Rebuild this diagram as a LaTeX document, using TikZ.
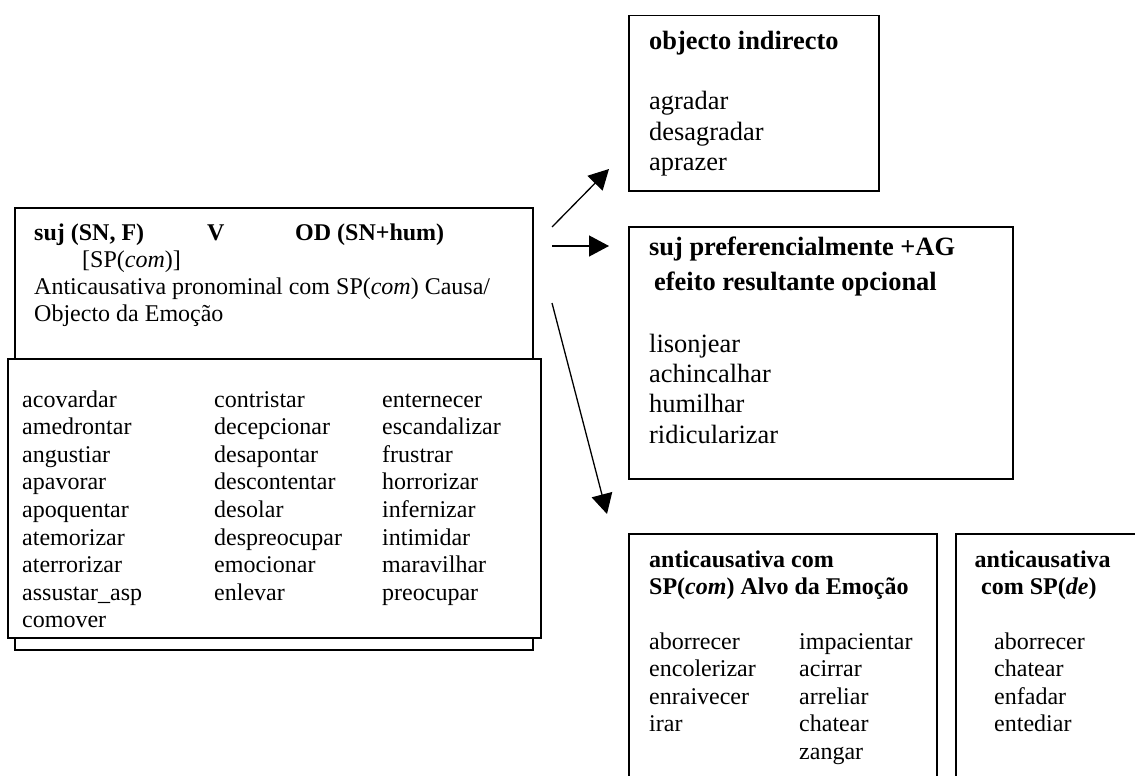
\documentclass[tikz,border=0pt]{standalone}
\usepackage{fontspec}
\setmainfont{Liberation Serif}
\usetikzlibrary{arrows.meta}
\newcommand\fsmall{\fontsize{24}{27.6}\selectfont}
\newcommand\fbig{\fontsize{26.4}{30.4}\selectfont}
\tikzset{
  frame/.style={draw, line width=1.5pt, rectangle, inner sep=0pt, anchor=north west, fill=white},
  lt/.style={inner sep=0pt, anchor=base west, font=\fsmall},
  rt/.style={inner sep=0pt, anchor=base west, font=\fbig},
  arr/.style={line width=1.3pt, -{Triangle[length=20pt,width=21pt]}}
}
\begin{document}
\begin{tikzpicture}[x=1pt,y=-1pt]
\useasboundingbox (0,0) rectangle (1135,776);
\clip (0,0) rectangle (1135,776);
\fill[white] (0,0) rectangle (1135,776);
% left boxes
\node[frame, minimum width=518pt, minimum height=442pt] (topbox) at (14,207) {};
\node[frame, line width=2.2pt, minimum width=533pt, minimum height=279pt] (listbox) at (7,358) {};
\node[lt] (h1) at (34,240) {\textbf{suj (SN, F)}};
\node[lt] (h2) at (207,240) {\textbf{V}};
\node[lt] (h3) at (295,240) {\textbf{OD (SN+hum)}};
\node[lt] (h4) at (82,267) {[SP(\textit{com})]};
\node[lt] (h5) at (34,294) {Anticausativa pronominal com SP(\textit{com}) Causa/};
\node[lt] (h6) at (34,321) {Objecto da Emoção};
\foreach \w [count=\i from 0] in {acovardar,amedrontar,angustiar,apavorar,apoquentar,atemorizar,aterrorizar,assustar\_asp,comover}
  \node[lt] (ca\i) at (22,407+27.6*\i) {\w};
\foreach \w [count=\i from 0] in {contristar,decepcionar,desapontar,descontentar,desolar,despreocupar,emocionar,enlevar}
  \node[lt] (cb\i) at (214,407+27.6*\i) {\w};
\foreach \w [count=\i from 0] in {enternecer,escandalizar,frustrar,horrorizar,infernizar,intimidar,maravilhar,preocupar}
  \node[lt] (cc\i) at (382,407+27.6*\i) {\w};
% objecto indirecto
\node[frame, minimum width=250pt, minimum height=175pt] (oibox) at (628,15) {};
\node[rt] (oi0) at (649,49) {\textbf{objecto indirecto}};
\node[rt] (oi1) at (649,110) {agradar};
\node[rt] (oi2) at (649,140) {desagradar};
\node[rt] (oi3) at (649,170) {aprazer};
% suj preferencialmente
\node[frame, minimum width=384pt, minimum height=252pt] (spbox) at (628,226) {};
\node[rt] (sp0) at (649,255) {\textbf{suj preferencialmente +AG}};
\node[rt] (sp1) at (654,290) {\textbf{efeito resultante opcional}};
\foreach \w [count=\i from 0] in {lisonjear,achincalhar,humilhar,ridicularizar}
  \node[rt] (sl\i) at (649,352+30.4*\i) {\w};
% anticausativa com
\node[frame, minimum width=308pt, minimum height=300pt] (acbox) at (628,533) {};
\node[lt] (ac0) at (649,567) {\textbf{anticausativa com}};
\node[lt] (ac1) at (649,594) {\textbf{SP(\textit{com}) Alvo da Emoção}};
\foreach \w [count=\i from 0] in {aborrecer,encolerizar,enraivecer,irar}
  \node[lt] (aa\i) at (649,649+27.6*\i) {\w};
\foreach \w [count=\i from 0] in {impacientar,acirrar,arreliar,chatear,zangar}
  \node[lt] (ab\i) at (799,649+27.6*\i) {\w};
% anticausativa de
\node[frame, minimum width=300pt, minimum height=300pt] (adbox) at (955,533) {};
\node[lt] (ad0) at (974.5,567) {\textbf{anticausativa}};
\node[lt] (ad1) at (981,594) {\textbf{com SP(\textit{de})}};
\foreach \w [count=\i from 0] in {aborrecer,chatear,enfadar,entediar}
  \node[lt] (ae\i) at (994,649+27.6*\i) {\w};
% arrows
\coordinate (a1s) at (552,227);
\coordinate (a1e) at (609,169);
\coordinate (a2s) at (552,246);
\coordinate (a2e) at (609,246);
\coordinate (a3s) at (552,303);
\coordinate (a3e) at (607,514);
\draw[arr] (a1s) -- (a1e);
\draw[arr] (a2s) -- (a2e);
\draw[arr] (a3s) -- (a3e);
\end{tikzpicture}
\end{document}
